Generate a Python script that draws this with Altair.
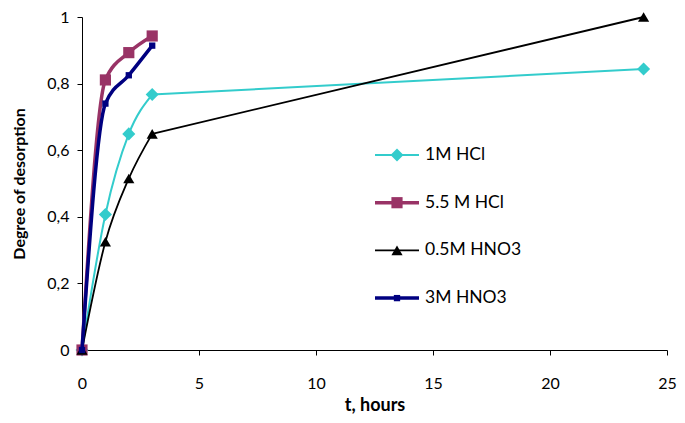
import altair as alt
import pandas as pd

series_names = ["1M HCl", "5.5 M HCl", "0.5M HNO3", "3M HNO3"]
t_hcl_1 = [0, 1, 2, 3, 24]
v_hcl_1 = [0, 0.407, 0.649, 0.767, 0.844]
t_hcl_55 = [0, 1, 2, 3]
v_hcl_55 = [0, 0.811, 0.893, 0.943]
t_hno3_05 = [0, 1, 2, 3, 24]
v_hno3_05 = [0, 0.325, 0.515, 0.649, 1.0]
t_hno3_3 = [0, 1, 2, 3]
v_hno3_3 = [0, 0.74, 0.825, 0.914]

colors = ["#33CCCC", "#993366", "#000000", "#000080"]
shapes = ["diamond", "square", "triangle-up", "square"]
sizes = [170, 125, 125, 40]
widths = [2, 3.5, 1.8, 3.5]

rows = []
for name, ts, vs in zip(series_names, [t_hcl_1, t_hcl_55, t_hno3_05, t_hno3_3],
                        [v_hcl_1, v_hcl_55, v_hno3_05, v_hno3_3]):
    for t, v in zip(ts, vs):
        rows.append({"series": name, "t": t, "v": v})
df = pd.DataFrame(rows)
leg = pd.DataFrame({"series": series_names})

FONT = "Lato"
W, H = 585, 333
LEG_TOP = 138
LEG_STEP = 47.7
SPLIT = 3  # last closely-spaced sample; the long gap after it is drawn straight

x_enc = alt.X("t:Q", scale=alt.Scale(domain=[0, 25], nice=False),
              axis=alt.Axis(values=[0, 5, 10, 15, 20, 25], title="t, hours",
                            grid=False, tickSize=5, labelPadding=20, titlePadding=5,
                            labelFlush=False, titleFontSize=18))
y_enc = alt.Y("v:Q", scale=alt.Scale(domain=[0, 1], nice=False),
              axis=alt.Axis(values=[0, 0.2, 0.4, 0.6, 0.8, 1.0], title="Degree of desorption",
                            labelExpr="replace(format(datum.value, '.1~f'), '.', ',')",
                            grid=False, tickSize=5, labelPadding=8, titlePadding=19,
                            labelFlush=False))

data_layers = []
legend_layers = []
for i, (name, col, shp, sz, w) in enumerate(zip(series_names, colors, shapes, sizes, widths)):
    base = alt.Chart(df).transform_filter(alt.datum.series == name)
    data_layers.append(base.transform_filter(alt.datum.t <= SPLIT)
                       .mark_line(interpolate="monotone", color=col, strokeWidth=w)
                       .encode(x=x_enc, y=y_enc))
    data_layers.append(base.transform_filter(alt.datum.t >= SPLIT)
                       .mark_line(interpolate="linear", color=col, strokeWidth=w)
                       .encode(x=x_enc, y=y_enc))
    data_layers.append(base.mark_point(filled=True, opacity=1, color=col, shape=shp, size=sz)
                       .encode(x=x_enc, y=y_enc))
    ly = alt.value(LEG_TOP + LEG_STEP * i)
    lb = alt.Chart(leg).transform_filter(alt.datum.series == name)
    legend_layers.append(lb.mark_rule(color=col, strokeWidth=w)
                         .encode(x=alt.value(293), x2=alt.value(337), y=ly))
    legend_layers.append(lb.mark_point(filled=True, opacity=1, color=col, shape=shp, size=sz)
                         .encode(x=alt.value(315), y=ly))
    legend_layers.append(lb.mark_text(align="left", baseline="middle", font=FONT,
                                      fontSize=17.5, color="#000000")
                         .encode(x=alt.value(343), y=ly, text="series:N"))

chart = alt.layer(*data_layers, *legend_layers).properties(
    width=W, height=H,
    autosize=alt.AutoSizeParams(type="none"),
    padding={"left": 74, "top": 9, "right": 10, "bottom": 65},
).configure_view(stroke=None).configure_axis(
    labelFont=FONT, titleFont=FONT, labelFontSize=16, titleFontSize=16,
    labelColor="#000000", titleColor="#000000", titleFontWeight="bold",
    domainColor="#000000", tickColor="#000000",
)

chart.save("out.html", embed_options={"renderer": "svg", "actions": False})
